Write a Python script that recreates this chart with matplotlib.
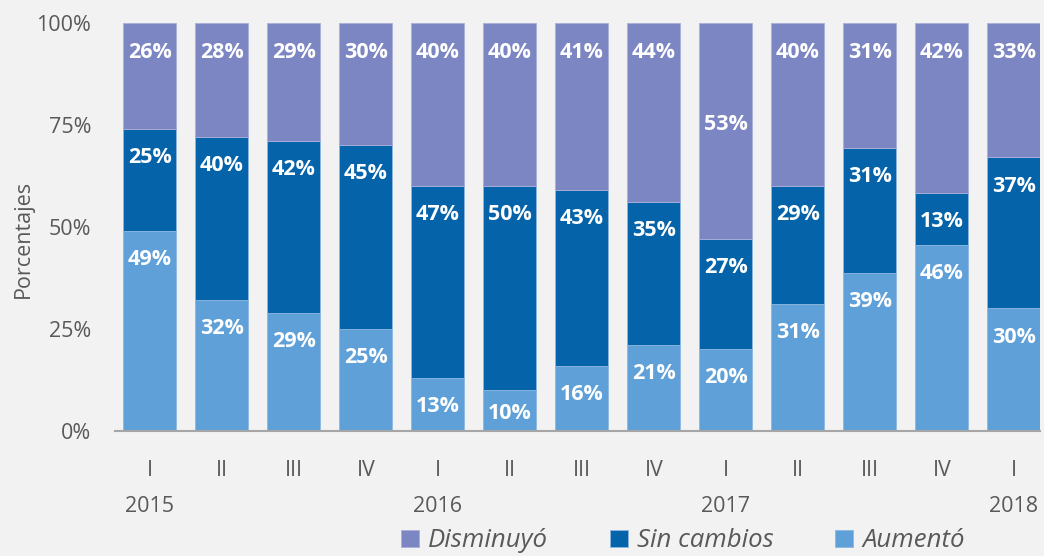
import matplotlib.pyplot as plt
import numpy as np

plt.rcParams['font.family'] = ['Open Sans', 'DejaVu Sans']

# Data (porcentajes por trimestre)
trimestres = ['I', 'II', 'III', 'IV', 'I', 'II', 'III', 'IV', 'I', 'II', 'III', 'IV', 'I']
anios = {0: '2015', 4: '2016', 8: '2017', 12: '2018'}
aumento = [49, 32, 29, 25, 13, 10, 16, 21, 20, 31, 39, 46, 30]
sin_cambios = [25, 40, 42, 45, 47, 50, 43, 35, 27, 29, 31, 13, 37]
disminuyo = [26, 28, 29, 30, 40, 40, 41, 44, 53, 40, 31, 42, 33]

BG = '#F2F2F2'
C_AUM = '#5EA0D7'
C_SIN = '#0563A9'
C_DIS = '#7B86C2'
TXT = '#595959'

a = np.array(aumento, dtype=float)
s = np.array(sin_cambios, dtype=float)
d = np.array(disminuyo, dtype=float)
tot = a + s + d
a_h, s_h, d_h = a / tot * 100, s / tot * 100, d / tot * 100

fig = plt.figure(figsize=(10.44, 5.56), dpi=100, facecolor=BG)
ax = fig.add_axes([0.110, 0.225, 0.886, 0.734], facecolor=BG)

x = np.arange(len(trimestres))
w = 0.735
ax.bar(x, a_h, w, color=C_AUM, edgecolor='#8FB8E0', linewidth=0.6, label='Aumentó')
ax.bar(x, s_h, w, bottom=a_h, color=C_SIN, edgecolor='#8FB8E0', linewidth=0.6, label='Sin cambios')
ax.bar(x, d_h, w, bottom=a_h + s_h, color=C_DIS, edgecolor='#A9AFD8', linewidth=0.6, label='Disminuyó')

# value labels
fs = 15.5
for i in range(len(x)):
    y_a = a_h[i] - 7 if a[i] > 12 else a_h[i] - 6.2
    ax.text(x[i], max(y_a, 4.3), f'{aumento[i]}%', ha='center', va='center',
            color='white', fontsize=fs, fontweight='bold')
    ax.text(x[i], a_h[i] + s_h[i] - 7, f'{sin_cambios[i]}%', ha='center', va='center',
            color='white', fontsize=fs, fontweight='bold')
    ax.text(x[i], 100 - 7.3 if d[i] < 45 else 100 - d_h[i] / 2 + 1.5, f'{disminuyo[i]}%',
            ha='center', va='center', color='white', fontsize=fs, fontweight='bold')

ax.set_xlim(-0.486, 12.36)
ax.set_ylim(0, 100)
ax.set_yticks([0, 25, 50, 75, 100])
ax.set_yticklabels(['0%', '25%', '50%', '75%', '100%'], fontsize=15.5, color=TXT)
ax.set_xticks(x)
ax.set_xticklabels(trimestres, fontsize=15.5, color=TXT)
ax.tick_params(axis='y', length=0, pad=17)
ax.tick_params(axis='x', length=0, pad=21)
for i, yr in anios.items():
    ax.text(i, -18.6, yr, ha='center', va='center', fontsize=15.5, color=TXT)

ax.set_ylabel('Porcentajes', fontsize=15.5, color=TXT)
ax.yaxis.set_label_coords(-0.087, 0.47)
for sp in ['left', 'right', 'top']:
    ax.spines[sp].set_visible(False)
ax.spines['bottom'].set_color('#A6A6A6')
ax.spines['bottom'].set_linewidth(1.5)

h, l = ax.get_legend_handles_labels()
leg = fig.legend(h[::-1], l[::-1], loc='center', bbox_to_anchor=(0.654, 0.027), ncol=3,
                 frameon=False, prop={'size': 18.5, 'style': 'italic'},
                 handlelength=0.7, handleheight=0.7, handletextpad=0.35, columnspacing=2.4)
for t in leg.get_texts():
    t.set_color(TXT)

fig.savefig('out.png', dpi=100, facecolor=BG)
